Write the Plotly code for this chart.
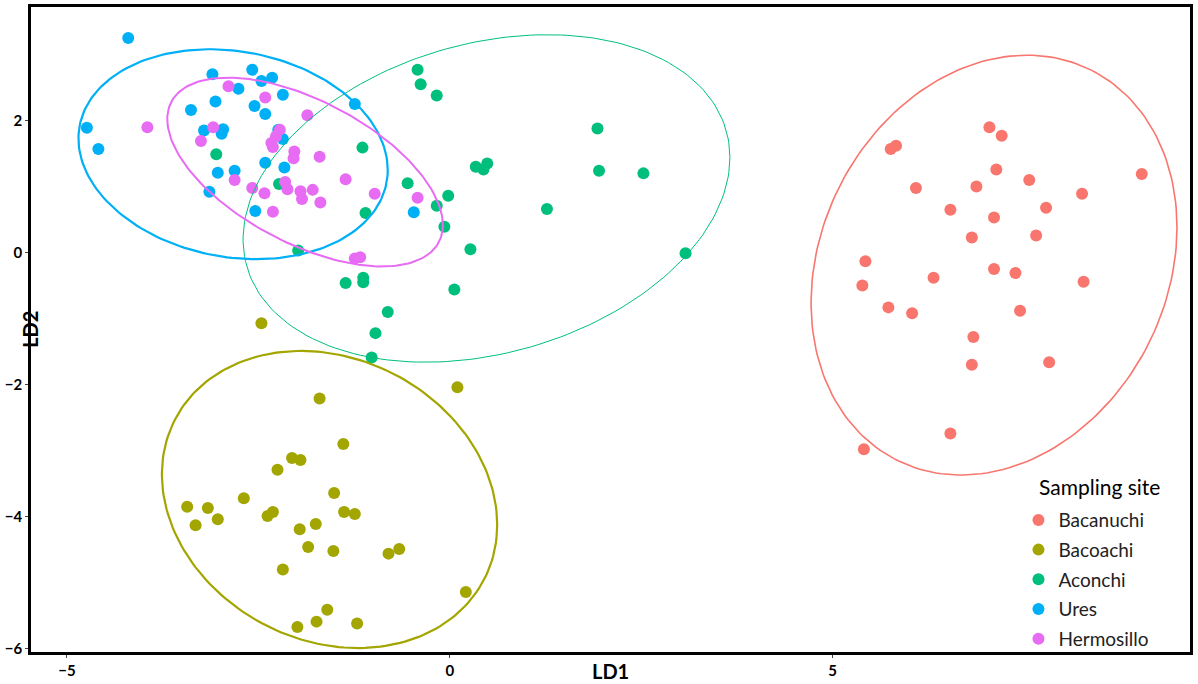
import numpy as np
import plotly.graph_objects as go

# LD scores, one pair of lists per sampling site
SITES = ["Bacanuchi", "Bacoachi", "Aconchi", "Ures", "Hermosillo"]
COLORS = ["#F8766D", "#A3A500", "#00BF7D", "#00B0F6", "#E76BF3"]
ELLIPSE_WIDTH = [1.6, 2.2, 1.0, 2.2, 2.0]

bacanuchi_ld1 = [7.05, 7.21, 5.76, 5.83, 7.14, 7.57, 9.04, 6.09, 6.88, 8.26,
                 6.54, 7.79, 7.11, 6.82, 7.66, 5.43, 5.39, 6.32, 7.11, 7.39,
                 8.28, 5.73, 6.04, 7.45, 6.84, 6.82, 7.83, 6.54, 5.41]
bacanuchi_ld2 = [1.90, 1.77, 1.57, 1.62, 1.26, 1.10, 1.19, 0.98, 1.00, 0.89,
                 0.65, 0.68, 0.53, 0.23, 0.26, -0.13, -0.50, -0.38, -0.25, -0.31,
                 -0.44, -0.83, -0.92, -0.88, -1.28, -1.70, -1.66, -2.74, -2.98]

bacoachi_ld1 = [-2.46, 0.10, -1.70, -1.39, -2.06, -1.95, -2.25, -1.51, -2.69, -3.43,
                -3.16, -3.32, -3.03, -2.38, -2.31, -1.38, -1.24, -1.75, -1.96, -1.85,
                -1.52, -0.80, -0.66, -2.18, 0.21, -1.60, -1.74, -1.99, -1.21]
bacoachi_ld2 = [-1.07, -2.04, -2.21, -2.90, -3.11, -3.14, -3.29, -3.64, -3.72, -3.85,
                -3.87, -4.13, -4.04, -3.99, -3.93, -3.93, -3.96, -4.11, -4.19, -4.46,
                -4.52, -4.56, -4.49, -4.80, -5.14, -5.41, -5.59, -5.67, -5.62]

aconchi_ld1 = [-3.05, -2.23, -1.98, -1.14, -1.10, -0.55, -0.17, -0.02, -0.07, -0.42,
               -0.38, -0.17, -1.36, -1.13, -1.13, 0.06, 1.93, 1.95, 2.53, 0.34,
               0.49, 0.44, 1.27, 0.27, 3.08, -0.81, -0.97, -1.02]
aconchi_ld2 = [1.49, 1.04, 0.03, 1.59, 0.60, 1.05, 0.71, 0.86, 0.39, 2.77,
               2.55, 2.38, -0.46, -0.38, -0.45, -0.56, 1.88, 1.24, 1.20, 1.30,
               1.35, 1.26, 0.66, 0.05, -0.01, -0.90, -1.22, -1.59]

ures_ld1 = [-4.20, -4.74, -4.59, -3.10, -2.58, -2.46, -2.32, -2.76, -3.06, -3.38,
            -2.55, -2.41, -2.18, -1.24, -3.21, -2.96, -2.98, -2.24, -2.18, -2.41,
            -2.16, -3.03, -2.81, -3.14, -2.54, -0.47]
ures_ld2 = [3.25, 1.89, 1.57, 2.70, 2.77, 2.60, 2.65, 2.48, 2.29, 2.16,
            2.22, 2.10, 2.39, 2.25, 1.85, 1.87, 1.80, 1.86, 1.72, 1.36,
            1.29, 1.21, 1.24, 0.92, 0.63, 0.61]

hermosillo_ld1 = [-3.95, -2.89, -2.41, -1.86, -3.09, -3.25, -2.22, -2.27, -2.33, -2.31,
                  -2.03, -2.04, -1.70, -1.36, -2.81, -2.58, -2.42, -2.15, -2.12, -1.95,
                  -1.79, -1.93, -1.69, -0.98, -2.31, -0.42, -1.24, -1.17]
hermosillo_ld2 = [1.90, 2.52, 2.35, 2.08, 1.90, 1.69, 1.86, 1.76, 1.66, 1.60,
                  1.53, 1.43, 1.45, 1.11, 1.10, 0.98, 0.90, 1.07, 0.96, 0.93,
                  0.95, 0.81, 0.76, 0.89, 0.62, 0.83, -0.09, -0.07]

LD1 = [bacanuchi_ld1, bacoachi_ld1, aconchi_ld1, ures_ld1, hermosillo_ld1]
LD2 = [bacanuchi_ld2, bacoachi_ld2, aconchi_ld2, ures_ld2, hermosillo_ld2]

# 95% ellipses (LD units):
# centre, half-width along LD1, half-height along LD2, correlation
ell_center_ld1 = [7.11, -1.57, 0.48, -2.83, -1.89]
ell_center_ld2 = [-0.19, -3.74, 0.82, 1.49, 1.22]
ell_half_ld1 = [2.39, 2.19, 3.18, 2.02, 1.80]
ell_half_ld2 = [3.18, 2.25, 2.48, 1.59, 1.43]
ell_corr = [0.18, -0.17, 0.25, -0.15, -0.56]


def ellipse(cx, cy, w, h, r, n=200):
    t = np.linspace(0, 2 * np.pi, n)
    x = cx + w * np.cos(t)
    y = cy + h * (r * np.cos(t) + np.sqrt(1 - r ** 2) * np.sin(t))
    return x, y


fig = go.Figure()

for site, col, xs, ys in zip(SITES, COLORS, LD1, LD2):
    fig.add_trace(go.Scatter(
        x=xs, y=ys, mode="markers", name=site, legendgroup=site,
        marker=dict(color=col, size=12, line=dict(width=0)),
    ))

for i, site in enumerate(SITES):
    ex, ey = ellipse(ell_center_ld1[i], ell_center_ld2[i], ell_half_ld1[i],
                     ell_half_ld2[i], ell_corr[i])
    fig.add_trace(go.Scatter(
        x=ex, y=ey, mode="lines",
        line=dict(color=COLORS[i], width=ELLIPSE_WIDTH[i]),
        showlegend=False, hoverinfo="skip",
    ))

axis = dict(showgrid=False, zeroline=False, showline=True, mirror=True,
            linecolor="black", linewidth=2.5, ticks="outside", ticklen=3,
            tickcolor="#444", tickwidth=1, automargin=False,
            tickfont=dict(family="Lato", size=15, color="black", weight="bold"))

fig.update_xaxes(range=[-5.47, 9.67], tickvals=[-5, 0, 5], **axis)
fig.update_yaxes(range=[-6.05, 3.72], tickvals=[-6, -4, -2, 0, 2], **axis)

fig.add_annotation(text="<b>LD1</b>", x=0.5, xref="paper", y=-0.029, yref="paper",
                   yanchor="middle", showarrow=False,
                   font=dict(family="Lato", size=20, color="black"))
fig.add_annotation(text="<b>LD2</b>", x=-0.0135, xref="paper", y=0.5, yref="paper",
                   textangle=-90, showarrow=False,
                   font=dict(family="Lato", size=20, color="black"))
fig.add_annotation(text="Sampling site", x=0.868, xref="paper", y=0.256, yref="paper",
                   xanchor="left", yanchor="middle", showarrow=False,
                   font=dict(family="Lato", size=21, color="black"))

fig.update_layout(
    width=1198, height=684,
    margin=dict(l=31, r=8, t=7, b=32),
    plot_bgcolor="white", paper_bgcolor="white",
    font=dict(family="Lato"),
    legend=dict(
        font=dict(family="Lato", size=19, color="#222"),
        x=0.852, y=0.234, xanchor="left", yanchor="top",
        bgcolor="rgba(0,0,0,0)", itemwidth=30, tracegroupgap=2,
    ),
    showlegend=True,
)

fig.write_html("out.html", config={"displayModeBar": False},
               post_script="document.body.style.margin = '0';")
